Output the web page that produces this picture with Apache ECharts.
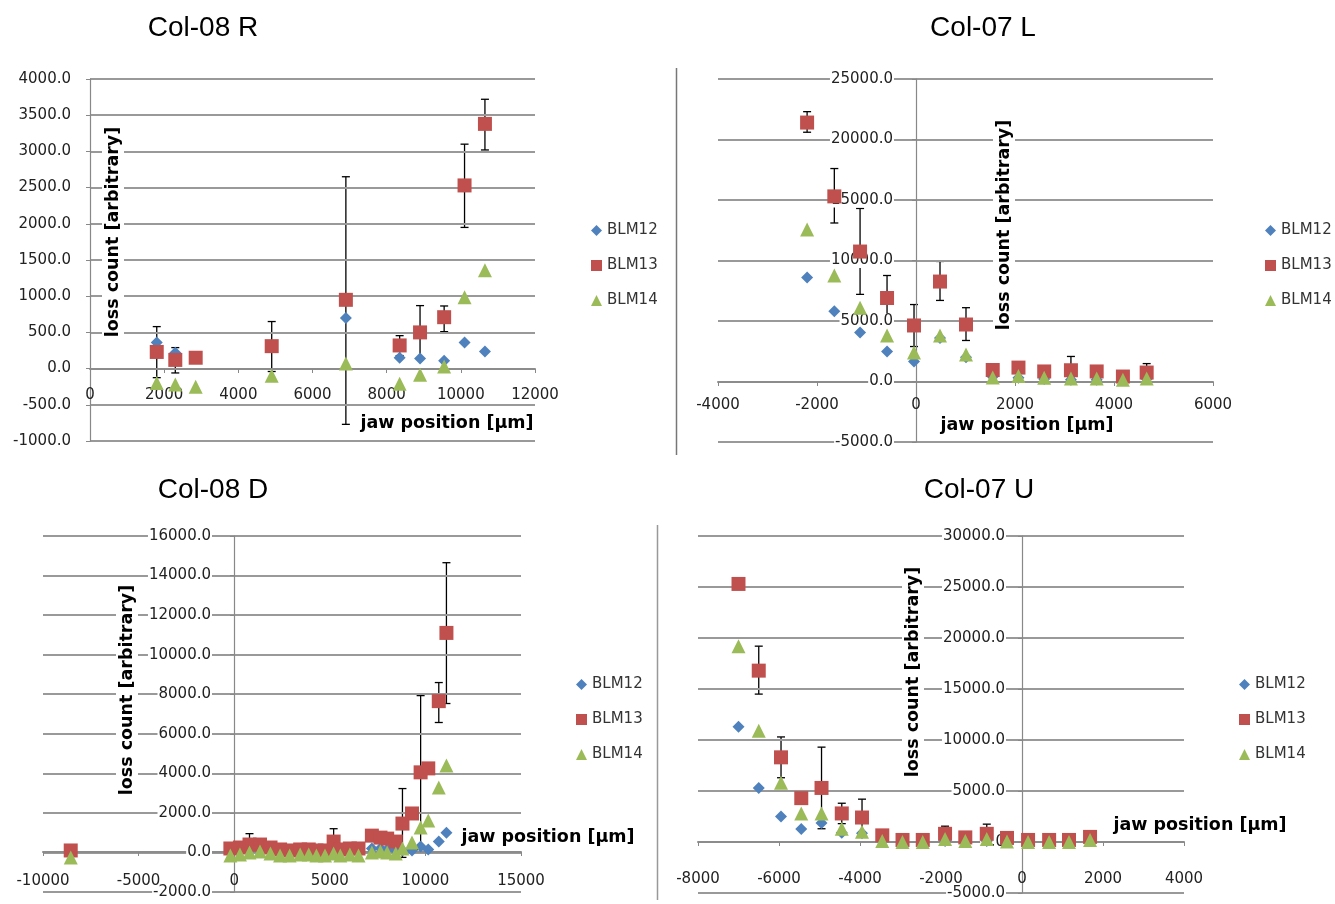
<!DOCTYPE html>
<html>
<head>
<meta charset="utf-8">
<script src="https://cdn.jsdelivr.net/npm/echarts@6/dist/echarts.min.js"></script>
<style>
  html, body { margin: 0; padding: 0; background: #fff; }
  #main { width: 1335px; height: 904px; }
</style>
</head>
<body>
<div id="main"></div>
<script>
// Col-08 R
const rX = [1800, 2300, 2850, 4900, 6900, 8350, 8900, 9550, 10100, 10650];
const rBlm12 = [360, 220, 160, 300, 700, 150, 140, 110, 360, 235];
const rBlm13 = [230, 120, 150, 310, 950, 320, 500, 710, 2530, 3380];
const rBlm14 = [-200, -220, -250, -100, 70, -210, -85, 30, 985, 1360];
const rErrX = [1800, 2300, 4900, 6900, 8350, 8900, 9550, 10100, 10650];
const rErrLo = [-125, -60, -40, -770, 180, 130, 510, 1950, 3020];
const rErrHi = [580, 290, 650, 2650, 455, 870, 865, 3100, 3720];

// Col-07 L
const lX = [-2200, -1650, -1130, -585, -40, 485, 1010, 1550, 2070, 2590, 3130, 3650, 4180, 4660];
const lBlm12 = [8600, 5800, 4050, 2480, 1650, 3600, 2000, 400, 300, 200, 150, 150, 100, 200];
const lBlm13 = [21400, 15300, 10740, 6900, 4630, 8260, 4710, 950, 1150, 830, 930, 830, 410, 740];
const lBlm14 = [12560, 8760, 6100, 3800, 2400, 3800, 2230, 330, 450, 300, 250, 250, 150, 250];
const lErrX = [-2200, -1650, -1130, -585, -40, 485, 1010, 3130, 4660];
const lErrLo = [20600, 13100, 7200, 5000, 2890, 6700, 3390, 400, 400];
const lErrHi = [22300, 17600, 14300, 8760, 6360, 9920, 6100, 2070, 1480];

// Col-08 D
const dX = [-8550, -200, 300, 800, 1350, 1900, 2400, 2900, 3450, 3900, 4300, 4750, 5200, 5550, 6050, 6500,
            7200, 7650, 8000, 8450, 8800, 9300, 9750, 10150, 10700, 11100];
const dBlm12 = [0, 50, 100, 150, 150, 100, 50, 50, 50, 50, 50, 50, 100, 50, 50, 50,
                200, 200, 150, 100, 100, 100, 300, 150, 550, 1000];
const dBlm13 = [100, 200, 250, 400, 400, 250, 150, 100, 150, 150, 100, 100, 550, 150, 200, 200,
                850, 750, 700, 550, 1460, 1970, 4050, 4250, 7650, 11100];
const dBlm14 = [-250, -150, -100, 0, 50, -50, -150, -150, -100, -100, -150, -150, -50, -150, -100, -150,
                0, 50, 0, -50, 200, 500, 1260, 1620, 3280, 4390];
const dErrX = [800, 5200, 8800, 9750, 10700, 11100];
const dErrLo = [0, 0, -250, 150, 6570, 7530];
const dErrHi = [950, 1200, 3230, 7930, 8590, 14650];

// Col-07 U
const uX = [-7000, -6500, -5950, -5450, -4950, -4450, -3950, -3450, -2950, -2450, -1900, -1400, -870, -370, 150, 670, 1160, 1680];
const uBlm12 = [11300, 5300, 2500, 1270, 1860, 900, 850, 100, 0, 0, 100, 0, 100, 0, 0, 0, 0, 100];
const uBlm13 = [25300, 16800, 8300, 4300, 5300, 2800, 2400, 650, 200, 200, 800, 450, 800, 400, 200, 200, 200, 500];
const uBlm14 = [19200, 10900, 5800, 2800, 2800, 1300, 1000, 100, 0, 0, 300, 100, 300, 50, 0, 0, 0, 200];
const uErrX = [-7000, -6500, -5950, -4950, -4450, -3950, -1900, -870];
const uErrLo = [24800, 14500, 6300, 1300, 1800, 1000, 300, 100];
const uErrHi = [25800, 19200, 10300, 9300, 3800, 4200, 1550, 1750];

const seriesNames = ['BLM12', 'BLM13', 'BLM14'];
const colors = ['#4F81BD', '#C0504D', '#9BBB59'];
const symbols = ['diamond', 'rect', 'triangle'];
const symbolSizes = [12, 14, 14];
const FONT = '"DejaVu Sans", sans-serif';
const GRID_COLOR = '#999';

const panels = [
  { x: rX, s: [rBlm12, rBlm13, rBlm14], ex: rErrX, lo: rErrLo, hi: rErrHi,
    xMin: 0, xMax: 12000, xStep: 2000, yMin: -1000, yMax: 4000, yStep: 500,
    grid: { left: 90, top: 79, width: 445, height: 362 }, xMargin: 19, yMargin: 18, legend: { left: 586, top: 218 } },
  { x: lX, s: [lBlm12, lBlm13, lBlm14], ex: lErrX, lo: lErrLo, hi: lErrHi,
    xMin: -4000, xMax: 6000, xStep: 2000, yMin: -5000, yMax: 25000, yStep: 5000,
    grid: { left: 718, top: 79, width: 495, height: 363 }, xMargin: 16, yMargin: 22, legend: { left: 1260, top: 218 } },
  { x: dX, s: [dBlm12, dBlm13, dBlm14], ex: dErrX, lo: dErrLo, hi: dErrHi,
    xMin: -10000, xMax: 15000, xStep: 5000, yMin: -2000, yMax: 16000, yStep: 2000,
    grid: { left: 43, top: 536, width: 478, height: 356 }, xMargin: 22, yMargin: 22, legend: { left: 571, top: 672 } },
  { x: uX, s: [uBlm12, uBlm13, uBlm14], ex: uErrX, lo: uErrLo, hi: uErrHi,
    xMin: -8000, xMax: 4000, xStep: 2000, yMin: -5000, yMax: 30000, yStep: 5000,
    grid: { left: 698, top: 536, width: 486, height: 357 }, xMargin: 30, yMargin: 16, legend: { left: 1234, top: 672 } }
];

function renderErr(params, api) {
  const x = api.value(0);
  const p1 = api.coord([x, api.value(1)]);
  const p2 = api.coord([x, api.value(2)]);
  const w = 4;
  const st = { stroke: '#000', lineWidth: 1.3 };
  return {
    type: 'group',
    children: [
      { type: 'line', shape: { x1: p1[0], y1: p1[1], x2: p2[0], y2: p2[1] }, style: st },
      { type: 'line', shape: { x1: p1[0] - w, y1: p1[1], x2: p1[0] + w, y2: p1[1] }, style: st },
      { type: 'line', shape: { x1: p2[0] - w, y1: p2[1], x2: p2[0] + w, y2: p2[1] }, style: st }
    ]
  };
}

const grid = [], xAxis = [], yAxis = [], series = [], legend = [];
panels.forEach((p, i) => {
  // fixed plot rectangles: no automatic shrinking to fit labels
  grid.push(Object.assign({ containLabel: false, outerBoundsMode: 'none' }, p.grid));
  xAxis.push({
    type: 'value', gridIndex: i, min: p.xMin, max: p.xMax, interval: p.xStep, z: 3,
    axisLine: { show: true, onZero: false, lineStyle: { color: '#8c8c8c', width: 2 } },
    axisTick: { show: true, length: 4, lineStyle: { color: '#888' } },
    splitLine: { show: false },
    axisLabel: { margin: p.xMargin, fontFamily: FONT, fontSize: 15, color: '#222', formatter: v => String(v) }
  });
  yAxis.push({
    type: 'value', gridIndex: i, min: p.yMin, max: p.yMax, interval: p.yStep, z: 3,
    axisLine: { show: true, onZero: false, lineStyle: { color: '#888', width: 1.2 } },
    axisTick: { show: true, length: 4, lineStyle: { color: '#888' } },
    splitLine: { show: true, lineStyle: { color: GRID_COLOR, width: 2 } },
    axisLabel: {
      margin: p.yMargin, fontFamily: FONT, fontSize: 15, color: '#222',
      backgroundColor: i === 0 ? 'transparent' : '#fff', padding: [0, 1],
      formatter: v => v.toFixed(1)
    }
  });
  series.push({
    type: 'custom', name: 'err' + i, xAxisIndex: i, yAxisIndex: i, z: 2,
    renderItem: renderErr, encode: { x: 0, y: [1, 2] },
    data: p.ex.map((x, k) => [x, p.lo[k], p.hi[k]])
  });
  p.s.forEach((vals, j) => {
    series.push({
      type: 'scatter', name: seriesNames[j], xAxisIndex: i, yAxisIndex: i, z: 3 + j,
      symbol: symbols[j], symbolSize: symbolSizes[j],
      itemStyle: { color: colors[j], opacity: 1 },
      data: p.x.map((x, k) => [x, vals[k]])
    });
  });
  legend.push({
    data: seriesNames, orient: 'vertical', left: p.legend.left, top: p.legend.top,
    itemWidth: 11, itemHeight: 11, itemGap: 20, selectedMode: false,
    textStyle: { fontFamily: FONT, fontSize: 15, color: '#333' }
  });
});

function txt(text, x, y, font, rotate, bg) {
  return {
    type: 'text', x: x, y: y, rotation: rotate ? Math.PI / 2 : 0, z: 20,
    style: {
      text: text, font: font, fill: '#000', align: 'center', verticalAlign: 'middle',
      backgroundColor: bg ? '#fff' : 'transparent', padding: [2, 4]
    }
  };
}
const titleFont = '28px "Liberation Sans", Arial, sans-serif';
const axFont = 'bold 17.5px "DejaVu Sans", sans-serif';

const graphics = [
  txt('Col-08 R', 203, 28, titleFont, false, false),
  txt('Col-07 L', 983, 28, titleFont, false, false),
  txt('Col-08 D', 213, 490, titleFont, false, false),
  txt('Col-07 U', 979, 490, titleFont, false, false),
  txt('loss count [arbitrary]', 113, 232, axFont, true, true),
  txt('jaw position [μm]', 447, 423, axFont, false, true),
  txt('loss count [arbitrary]', 1004, 225, axFont, true, true),
  txt('jaw position [μm]', 1027, 425, axFont, false, true),
  txt('loss count [arbitrary]', 127, 690, axFont, true, true),
  txt('jaw position [μm]', 548, 837, axFont, false, true),
  txt('loss count [arbitrary]', 913, 672, axFont, true, true),
  txt('jaw position [μm]', 1200, 825, axFont, false, true),
  { type: 'line', z: 5, shape: { x1: 676.5, y1: 68, x2: 676.5, y2: 455 }, style: { stroke: '#777', lineWidth: 1.5 } },
  { type: 'line', z: 5, shape: { x1: 657.5, y1: 525, x2: 657.5, y2: 900 }, style: { stroke: '#999', lineWidth: 1.5 } }
];

const chart = echarts.init(document.getElementById('main'));
chart.setOption({
  backgroundColor: '#fff',
  animation: false,
  grid: grid,
  xAxis: xAxis,
  yAxis: yAxis,
  legend: legend,
  series: series,
  graphic: graphics
});

// put each axis on the zero line of the other axis in its own grid
chart.setOption({
  xAxis: panels.map((p, i) => {
    const zeroY = chart.convertToPixel({ gridIndex: i }, [p.xMin, 0])[1];
    return { offset: Math.round(zeroY - (p.grid.top + p.grid.height)) };
  }),
  yAxis: panels.map((p, i) => {
    const zeroX = chart.convertToPixel({ gridIndex: i }, [0, p.yMin])[0];
    return { offset: Math.round(p.grid.left - zeroX) };
  })
});
</script>
</body>
</html>
